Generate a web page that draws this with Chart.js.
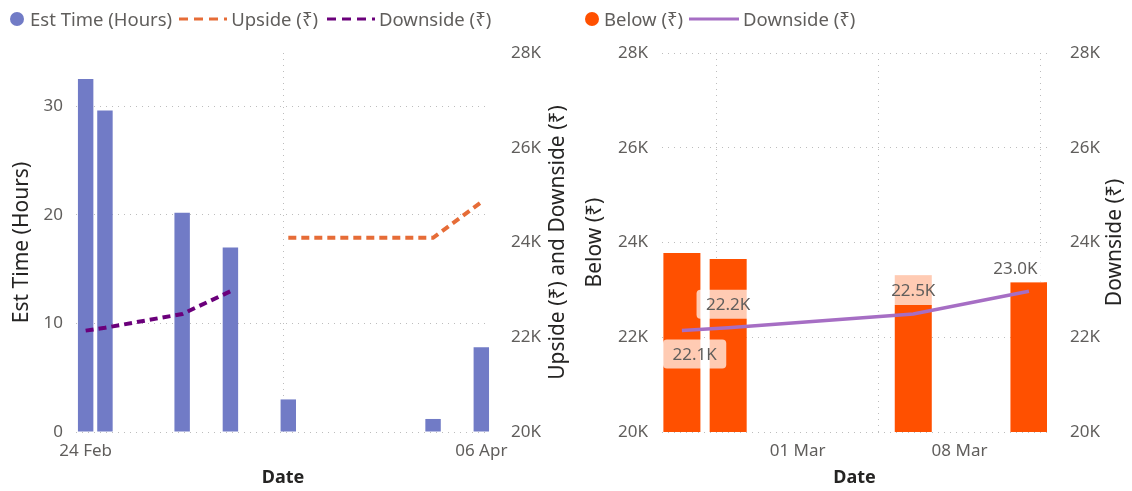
<!DOCTYPE html>
<html><head><meta charset="utf-8">
<script src="https://cdn.jsdelivr.net/npm/chart.js@4.4.1/dist/chart.umd.min.js"></script>
<style>
html,body{margin:0;padding:0;background:#fff;width:1132px;height:491px;overflow:hidden;font-family:'Noto Sans',sans-serif;}
canvas{position:absolute;top:0;}
#c1{left:0;}
#c2{left:574px;}
.legend{position:absolute;top:7px;display:flex;align-items:center;font-size:18.5px;line-height:24px;color:#605E5C;white-space:nowrap;}
.legend svg{display:block;flex:none;}
</style></head><body>
<canvas id="c1" width="574" height="491"></canvas>
<canvas id="c2" width="558" height="491"></canvas>
<div class="legend" id="lg1" style="left:10px"></div>
<div class="legend" id="lg2" style="left:585px"></div>
<script>
// ---------- data ----------
const estDates       = ['2023-02-24','2023-02-26','2023-03-06','2023-03-11','2023-03-17','2023-04-01','2023-04-06'];
const estHours       = [32.5, 29.6, 20.2, 17.0, 3.0, 1.2, 7.8];
const upsideDates    = ['2023-03-17','2023-04-01','2023-04-06'];
const upsideValues   = [24100, 24100, 24850];
const downsideDates  = ['2023-02-24','2023-02-26','2023-03-06','2023-03-11'];
const downsideValues = [22140, 22200, 22490, 22970];
const belowDates     = ['2023-02-24','2023-02-26','2023-03-06','2023-03-11'];
const belowValues    = [23780, 23650, 23300, 23160];
const leftXTickDates  = ['2023-02-24','2023-04-06'];
const leftXTickLabels = ['24 Feb','06 Apr'];
const rightXTickDates  = ['2023-03-01','2023-03-08'];
const rightXTickLabels = ['01 Mar','08 Mar'];
const hoursTicks = [0, 10, 20, 30];
const rupeeTicks = [20000, 22000, 24000, 26000, 28000];
const names = {est:'Est Time (Hours)', up:'Upside (₹)', down:'Downside (₹)', below:'Below (₹)', date:'Date', leftY2:'Upside (₹) and Downside (₹)'};

// ---------- helpers ----------
const BASE = Date.UTC(2023,1,24);
const dayOf = s => { const [y,m,d] = s.split('-').map(Number); return (Date.UTC(y,m-1,d)-BASE)/864e5; };
const pts = (dates, vals) => dates.map((d,i) => ({x: dayOf(d), y: vals[i]}));
const kFmt = v => (v/1000).toFixed(0) + 'K';
const setTicks = arr => s => { s.ticks = arr.map(v => ({value: v})); };

const TXT = '#605E5C', TITLE = '#252423', GRID = '#BDBDBD';
const FF = "'Noto Sans', sans-serif";
Chart.defaults.font.family = FF;
Chart.defaults.color = TXT;

const tickFont = {size: 17};
const titleFont = {size: 21};

// right-side axis titles drawn reading bottom-to-top, like Power BI
const rightTitlePlugin = {
  id:'rightTitle',
  afterDraw(chart, args, opts){
    const s = chart.scales.y2;
    const ctx = chart.ctx;
    ctx.save();
    ctx.font = titleFont.size + 'px ' + FF;
    ctx.fillStyle = TITLE;
    ctx.textAlign = 'center';
    ctx.textBaseline = 'middle';
    ctx.translate(s.right - opts.offset, (s.top + s.bottom)/2);
    ctx.rotate(-Math.PI/2);
    ctx.fillText(opts.text, 0, 0);
    ctx.restore();
  }
};

function yScale(opts){
  return Object.assign({
    grid: {color: GRID, drawTicks: false},
    border: {display: false, dash: [1,5]},
  }, opts);
}

// ---------- left chart ----------
new Chart(document.getElementById('c1'), {
  type: 'bar',
  data: { datasets: [
    {type:'line', label:names.up, data: pts(upsideDates, upsideValues), yAxisID:'y2',
     borderColor:'#E66C37', borderWidth:4, borderDash:[8,5], pointRadius:0, tension:0, order:0},
    {type:'line', label:names.down, data: pts(downsideDates, downsideValues), yAxisID:'y2',
     borderColor:'#6B007B', borderWidth:4, borderDash:[8,5], pointRadius:0, tension:0, order:0},
    {type:'bar', label:names.est, data: pts(estDates, estHours), yAxisID:'y',
     backgroundColor:'#717BC6', categoryPercentage:1, barPercentage:0.8, order:1}
  ]},
  options: {
    responsive:false, animation:false,
    layout:{padding:{top:53, left:0, right:0, bottom:0}},
    plugins:{legend:{display:false}, tooltip:{enabled:false}, rightTitle:{text:names.leftY2, offset:16}},
    scales:{
      x:{type:'linear', min:-1, max:41.9, offset:false,
         afterBuildTicks: s => { s.ticks = leftXTickDates.map(d => ({value: dayOf(d)})); },
         ticks:{callback:(v,i)=>leftXTickLabels[i], font:tickFont, color:TXT, padding:9, maxRotation:0, autoSkip:false},
         grid:{color:GRID, drawTicks:false}, border:{display:false, dash:[1,5]},
         title:{display:true, text:names.date, color:TITLE, font:{size:18, weight:'bold'}, padding:{top:0, bottom:2}},
         afterFit: s => { s.height = 59; }},
      y: yScale({position:'left', min:0, max:34.9,
         afterBuildTicks: setTicks(hoursTicks),
         ticks:{font:tickFont, color:TXT, padding:13},
         title:{display:true, text:names.est, color:TITLE, font:titleFont, padding:{top:9, bottom:0}},
         afterFit: s => { s.width = 76; }}),
      y2:{position:'right', min:20000, max:28000,
         afterBuildTicks: setTicks(rupeeTicks),
         ticks:{font:tickFont, color:TXT, padding:13, callback: v => kFmt(v)},
         grid:{display:false}, border:{display:false},
         title:{display:false},
         afterFit: s => { s.width = 84; }}
    }
  },
  plugins:[rightTitlePlugin]
});

// ---------- right chart ----------
const labelPlugin = {
  id:'pointLabels',
  afterDatasetsDraw(chart){
    const ctx = chart.ctx, area = chart.chartArea;
    const meta = chart.getDatasetMeta(0);
    const ds = chart.data.datasets[0];
    const place = ['below','above','above','above'];
    ctx.save();
    ctx.font = "17px " + FF;
    ctx.textAlign = 'center';
    ctx.textBaseline = 'middle';
    meta.data.forEach((pt, i) => {
      const v = ds.data[i].y;
      const txt = (v/1000).toFixed(1) + 'K';
      const w = ctx.measureText(txt).width + 19, h = 29;
      let cx = Math.min(Math.max(pt.x, area.left + w/2 + 1), area.right - w/2);
      const top = place[i] === 'above' ? pt.y - 9 - h : pt.y + 9;
      ctx.fillStyle = 'rgba(255,255,255,0.7)';
      ctx.beginPath();
      ctx.roundRect(cx - w/2, top, w, h, 4);
      ctx.fill();
      ctx.fillStyle = TXT;
      ctx.fillText(txt, cx, top + h/2 + 1);
    });
    ctx.restore();
  }
};

new Chart(document.getElementById('c2'), {
  type:'bar',
  data:{ datasets:[
    {type:'line', label:names.down, data: pts(downsideDates, downsideValues), yAxisID:'y2',
     borderColor:'#A66EC4', borderWidth:3.5, pointRadius:0, tension:0, order:0},
    {type:'bar', label:names.below, data: pts(belowDates, belowValues), yAxisID:'y',
     backgroundColor:'#FF5000', categoryPercentage:1, barPercentage:0.8, order:1}
  ]},
  options:{
    responsive:false, animation:false,
    layout:{padding:{top:53, left:0, right:0, bottom:0}},
    plugins:{legend:{display:false}, tooltip:{enabled:false}, rightTitle:{text:names.down, offset:17}},
    scales:{
      x:{type:'linear', min:-0.86, max:15.78, offset:false,
         afterBuildTicks: s => { s.ticks = rightXTickDates.map(d => ({value: dayOf(d)})); },
         ticks:{callback:(v,i)=>rightXTickLabels[i], font:tickFont, color:TXT, padding:9, maxRotation:0, autoSkip:false},
         grid:{color:GRID, drawTicks:false}, border:{display:false, dash:[1,5]},
         title:{display:true, text:names.date, color:TITLE, font:{size:18, weight:'bold'}, padding:{top:0, bottom:2}},
         afterFit: s => { s.height = 59; }},
      y: yScale({position:'left', min:20000, max:28000,
         afterBuildTicks: setTicks(rupeeTicks),
         ticks:{font:tickFont, color:TXT, padding:14, callback: v => kFmt(v)},
         title:{display:true, text:names.below, color:TITLE, font:titleFont, padding:{top:8, bottom:0}},
         afterFit: s => { s.width = 88; }}),
      y2:{position:'right', min:20000, max:28000,
         afterBuildTicks: setTicks(rupeeTicks),
         ticks:{font:tickFont, color:TXT, padding:15, callback: v => kFmt(v)},
         grid:{display:false}, border:{display:false},
         title:{display:false},
         afterFit: s => { s.width = 85; }}
    }
  },
  plugins:[labelPlugin, rightTitlePlugin]
});

// ---------- legends ----------
const dot = c => `<svg width="14" height="14"><circle cx="7" cy="7" r="7" fill="${c}"/></svg>`;
const dash = c => `<svg width="48" height="10"><line x1="0" y1="5" x2="48" y2="5" stroke="${c}" stroke-width="3" stroke-dasharray="9 6"/></svg>`;
const solid = c => `<svg width="50" height="10"><line x1="0" y1="5" x2="50" y2="5" stroke="${c}" stroke-width="3"/></svg>`;
const sp = (t, ml, mr) => `<span style="margin-left:${ml}px;margin-right:${mr}px">${t}</span>`;
document.getElementById('lg1').innerHTML =
  dot('#717BC6') + sp(names.est, 6, 7) + dash('#E66C37') + sp(names.up, 4, 9) + dash('#6B007B') + sp(names.down, 4, 0);
document.getElementById('lg2').innerHTML =
  dot('#FF5000') + sp(names.below, 5, 6) + solid('#A66EC4') + sp(names.down, 4, 0);
</script>
</body></html>
